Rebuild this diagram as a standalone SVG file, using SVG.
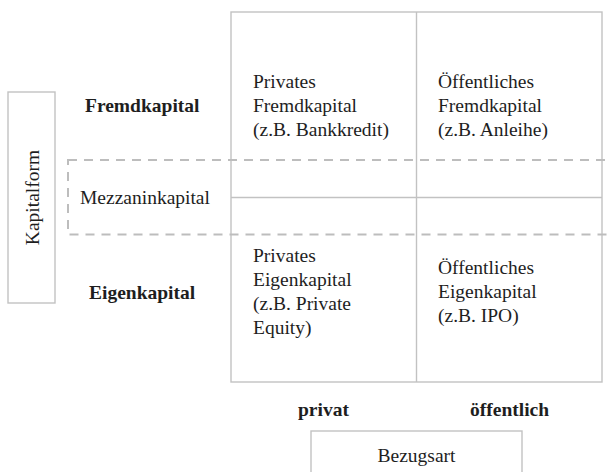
<svg xmlns="http://www.w3.org/2000/svg" width="611" height="472" viewBox="0 0 611 472">
<style>
.box{fill:#fff;stroke:#c2c2c2;stroke-width:1.4}
.ln{fill:none;stroke:#c2c2c2;stroke-width:1.4}
.dash{fill:none;stroke:#bdbdbd;stroke-width:2;stroke-dasharray:9 7}
text{font-family:"Liberation Serif","Times New Roman",serif;font-size:19.5px;fill:#1e1e1e}
.b{font-weight:bold}
</style>
<rect width="611" height="472" fill="#fff"/>
<g id="grid">
<rect class="box" x="231" y="12" width="371" height="370"/>
<line class="ln" x1="416.5" y1="12" x2="416.5" y2="382"/>
<line class="ln" x1="231" y1="197.5" x2="602" y2="197.5"/>
</g>
<g id="mezzanin">
<rect class="dash" x="68" y="160" width="560" height="74.5"/>
<text x="80" y="204">Mezzaninkapital</text>
</g>
<g id="kapitalform">
<rect class="box" x="8" y="92" width="47" height="211"/>
<text x="32" y="197.5" text-anchor="middle" dominant-baseline="central" transform="rotate(-90 32 197.5)">Kapitalform</text>
</g>
<g id="fremdkapital"><text class="b" x="85" y="112">Fremdkapital</text></g>
<g id="eigenkapital"><text class="b" x="89" y="299">Eigenkapital</text></g>
<g id="cell-pf"><text x="253" y="88">Privates<tspan x="253" y="112">Fremdkapital</tspan><tspan x="253" y="136">(z.B. Bankkredit)</tspan></text></g>
<g id="cell-of"><text x="438" y="88">Öffentliches<tspan x="438" y="112">Fremdkapital</tspan><tspan x="438" y="136">(z.B. Anleihe)</tspan></text></g>
<g id="cell-pe"><text x="253" y="262">Privates<tspan x="253" y="286">Eigenkapital</tspan><tspan x="253" y="310">(z.B. Private</tspan><tspan x="253" y="334">Equity)</tspan></text></g>
<g id="cell-oe"><text x="438" y="274">Öffentliches<tspan x="438" y="298">Eigenkapital</tspan><tspan x="438" y="322">(z.B. IPO)</tspan></text></g>
<g id="privat"><text class="b" x="298" y="416">privat</text></g>
<g id="oeffentlich"><text class="b" x="470" y="416">öffentlich</text></g>
<g id="bezugsart">
<rect class="box" x="311" y="431" width="211" height="60"/>
<text x="416.5" y="462" text-anchor="middle">Bezugsart</text>
</g>
<g id="connectors"></g>
</svg>
